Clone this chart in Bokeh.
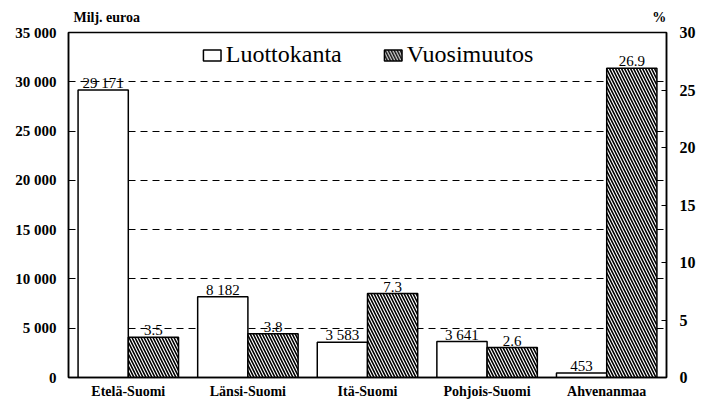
from bokeh.plotting import figure
from bokeh.models import (FactorRange, Range1d, LinearAxis, FixedTicker, ColumnDataSource,
                          Legend, LegendItem)
from bokeh.transform import dodge
from bokeh.core.properties import value
from bokeh.embed import file_html
from bokeh.resources import INLINE

# ---- data ----
regions = ["Etelä-Suomi", "Länsi-Suomi", "Itä-Suomi", "Pohjois-Suomi", "Ahvenanmaa"]
luottokanta = [29171, 8182, 3583, 3641, 453]        # Milj. euroa
vuosimuutos = [3.5, 3.8, 7.3, 2.6, 26.9]            # %
left_ticks = [0, 5000, 10000, 15000, 20000, 25000, 30000, 35000]
right_ticks = [0, 5, 10, 15, 20, 25, 30]
series_names = ["Luottokanta", "Vuosimuutos"]
unit_left = "Milj. euroa"
unit_right = "%"

FONT = "Liberation Serif"

src = ColumnDataSource(dict(
    region=regions,
    luotto=luottokanta,
    muutos=vuosimuutos,
    luotto_lbl=[f"{v:,}".replace(",", " ") for v in luottokanta],
    muutos_lbl=[f"{v:.1f}" for v in vuosimuutos],
))

p = figure(width=712, height=402, x_range=FactorRange(factors=regions),
           y_range=Range1d(0, 35000), output_backend="svg", toolbar_location=None,
           min_border_left=68, min_border_right=46, min_border_top=32, min_border_bottom=25)
p.extra_y_ranges = {"pct": Range1d(0, 30)}

p.background_fill_color = "white"
p.border_fill_color = "white"
p.outline_line_color = "black"
p.outline_line_width = 1.5

# grid
p.xgrid.grid_line_color = None
p.ygrid.grid_line_color = "black"
p.ygrid.grid_line_dash = "7 5"
p.ygrid.grid_line_width = 1


def style_axis(ax, size="15px"):
    ax.major_tick_in = 5
    ax.major_tick_out = 0
    ax.minor_tick_line_color = None
    ax.axis_line_color = "black"
    ax.axis_line_width = 1.5
    ax.major_tick_line_color = "black"
    ax.major_label_text_font = FONT
    ax.major_label_text_font_size = size
    ax.major_label_text_font_style = "bold"
    ax.major_label_text_color = "black"


# left axis
ya = p.yaxis[0]
ya.ticker = FixedTicker(ticks=left_ticks)
ya.major_label_overrides = {t: f"{t:,}".replace(",", " ") for t in left_ticks}
style_axis(ya)
ya.major_label_standoff = 12

# right axis
ra = LinearAxis(y_range_name="pct", ticker=FixedTicker(ticks=right_ticks))
style_axis(ra, "16px")
ra.major_label_standoff = 13
p.add_layout(ra, "right")

# x axis
xa = p.xaxis[0]
style_axis(xa, "14px")
xa.major_tick_line_color = None
xa.major_label_standoff = 6

# unit captions above the frame ("Milj. euroa" left, "%" right)
ua = LinearAxis(ticker=FixedTicker(ticks=[0.32, 4.94]),
                major_label_overrides={0.32: unit_left, 4.94: unit_right})
ua.axis_line_color = None
ua.major_tick_line_color = None
ua.minor_tick_line_color = None
ua.major_label_standoff = 2
ua.major_label_text_font = FONT
ua.major_label_text_font_size = "14px"
ua.major_label_text_font_style = "bold"
ua.major_label_text_color = "black"
p.add_layout(ua, "above")

W = 0.42
r1 = p.vbar(x=dodge("region", -W / 2, range=p.x_range), top="luotto", width=W, source=src,
            fill_color="white", line_color="black", line_width=1.5)
r2 = p.vbar(x=dodge("region", W / 2, range=p.x_range), top="muutos", width=W, source=src,
            y_range_name="pct", fill_color="white", line_color="black", line_width=1.5,
            hatch_pattern="\\", hatch_color="black", hatch_scale=6, hatch_weight=1.6)

p.text(x=dodge("region", -W / 2, range=p.x_range), y="luotto", text="luotto_lbl", source=src,
       text_align="center", text_baseline="alphabetic", y_offset=-7,
       text_font=value(FONT), text_font_size="15px", text_color="black")
p.text(x=dodge("region", W / 2, range=p.x_range), y="muutos", text="muutos_lbl", source=src,
       y_range_name="pct", text_align="center", text_baseline="alphabetic", y_offset=-7,
       text_font=value(FONT), text_font_size="15px", text_color="black")

legend = Legend(items=[LegendItem(label=series_names[0], renderers=[r1]),
                       LegendItem(label=series_names[1], renderers=[r2])],
                location="top_center", orientation="horizontal",
                label_text_font=FONT, label_text_font_size="24px", label_text_color="black",
                glyph_width=22, glyph_height=14, label_standoff=3, spacing=40,
                margin=9, padding=4, label_height=24,
                background_fill_alpha=0, border_line_color=None)
p.add_layout(legend)

open("out.html", "w").write(file_html(p, INLINE))
